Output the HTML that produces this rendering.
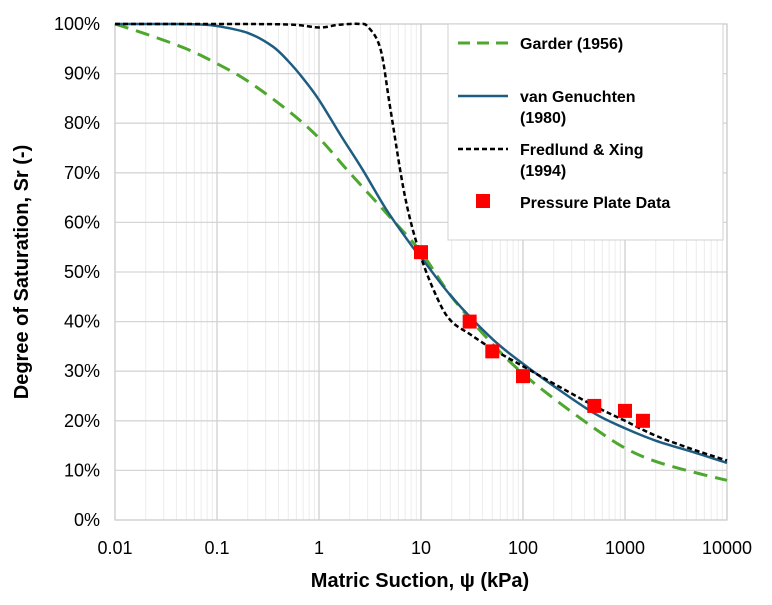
<!DOCTYPE html>
<html><head><meta charset="utf-8"><style>
body{margin:0;background:#fff}
svg text{font-family:"Liberation Sans",Arial,sans-serif}
</style></head><body>
<svg id="chart" width="772" height="600" xmlns="http://www.w3.org/2000/svg">
<g id="grid"></g>
<g id="ticks"></g>
<g id="series"></g>
<text x="420" y="587" text-anchor="middle" font-size="20" font-weight="bold" fill="#000">Matric Suction, ψ (kPa)</text>
<text transform="translate(28,272) rotate(-90)" text-anchor="middle" font-size="20" font-weight="bold" fill="#000">Degree of Saturation, Sr (-)</text>
<g>
<rect x="448" y="24" width="275" height="216" fill="#fff" stroke="#d0d0d0"/>
<line x1="458" y1="43" x2="508" y2="43" stroke="#4ea72e" stroke-width="3" stroke-dasharray="12,7"/>
<text x="520" y="49" font-size="16" font-weight="bold">Garder (1956)</text>
<line x1="458" y1="96" x2="508" y2="96" stroke="#1f5d80" stroke-width="2.5"/>
<text x="520" y="102" font-size="16" font-weight="bold">van Genuchten<tspan x="520" dy="21">(1980)</tspan></text>
<line x1="458" y1="149" x2="508" y2="149" stroke="#000" stroke-width="2.5" stroke-dasharray="5,3"/>
<text x="520" y="155" font-size="16" font-weight="bold">Fredlund &amp; Xing<tspan x="520" dy="21">(1994)</tspan></text>
<rect x="476" y="194" width="14" height="14" fill="#ff0000"/>
<text x="520" y="208" font-size="16" font-weight="bold">Pressure Plate Data</text>
</g>
</svg>
<script>
const xTicks=[0.01,0.1,1,10,100,1000,10000];
const xTickLabels=["0.01","0.1","1","10","100","1000","10000"];
const yTicks=[0,10,20,30,40,50,60,70,80,90,100];
const garderX=[0.01,0.02,0.05,0.1,0.2,0.5,1,2,5,10,20,50,100,200,500,1000,2000,5000,10000];
const garderY=[100,98,95,92,88.5,82.5,77,70,61,54,45,35.5,29.5,24.5,18.5,14.5,11.8,9.5,8];
const vgX=[0.01,0.04,0.07,0.1,0.2,0.35,0.5,0.7,1,1.64,2.7,4.6,8.3,10,20,50,100,200,500,1000,2000,5000,10000];
const vgY=[100,100,99.9,99.6,98.2,95.5,92.5,89,84.7,77.5,70.5,62.5,55,53,45,36.5,31.5,27,21.5,18.5,16,13.5,11.5];
const fxX=[0.01,0.1,0.5,1,1.5,2,2.5,3,4,5,7,10,15,20,30,50,100,200,500,1000,2000,5000,10000];
const fxY=[100,100,99.9,99.3,99.8,100,100,99.5,95,83,65,53,44,40,37.5,34.5,31,27.5,23,20,17,14,12];
const dataX=[10,30,50,100,500,1000,1500];
const dataY=[54,40,34,29,23,22,20];
const L=115,R=727,T=24,B=520;
const xs=v=>L+(Math.log10(v)+2)/6*(R-L);
const ys=v=>B-v/100*(B-T);
const NS="http://www.w3.org/2000/svg";
function mk(p,tag,at){const e=document.createElementNS(NS,tag);for(const k in at)e.setAttribute(k,at[k]);p.appendChild(e);return e;}
const grid=document.getElementById('grid'),tk=document.getElementById('ticks'),sr=document.getElementById('series');
for(let d=-2;d<4;d++)for(let m=2;m<10;m++){const x=xs(m*Math.pow(10,d));
 const l=mk(grid,'line',{x1:x,x2:x,y1:T,y2:B,stroke:'#ececec','stroke-width':1});
 
 }
yTicks.forEach(v=>{const l=mk(grid,'line',{x1:L,x2:R,y1:ys(v),y2:ys(v),stroke:'#d6d6d6','stroke-width':1.3});
 
 
 const t=mk(tk,'text',{x:L-15,y:ys(v)+6,'text-anchor':'end','font-size':18});t.textContent=v+'%';
 
 });
xTicks.forEach((v,i)=>{const l=mk(grid,'line',{x1:xs(v),x2:xs(v),y1:T,y2:B,stroke:'#d0d0d0','stroke-width':1.3});
 
 
 const t=mk(tk,'text',{x:xs(v),y:B+34,'text-anchor':'middle','font-size':18});t.textContent=xTickLabels[i];
 
 });
function path(X,Y){const p=X.map((x,i)=>[xs(x),ys(Y[i])]);let d='M'+p[0][0]+','+p[0][1];
 for(let i=0;i<p.length-1;i++){const p0=p[i-1]||p[i],p1=p[i],p2=p[i+1],p3=p[i+2]||p2;
 d+=' C'+(p1[0]+(p2[0]-p0[0])/6)+','+(p1[1]+(p2[1]-p0[1])/6)+' '+(p2[0]-(p3[0]-p1[0])/6)+','+(p2[1]-(p3[1]-p1[1])/6)+' '+p2[0]+','+p2[1];}
 return d;}
const g=mk(sr,'path',{d:path(garderX,garderY),fill:'none',stroke:'#4ea72e','stroke-width':3,'stroke-dasharray':'14,8'});


const v=mk(sr,'path',{d:path(vgX,vgY),fill:'none',stroke:'#1f5d80','stroke-width':2.5});


const f=mk(sr,'path',{d:path(fxX,fxY),fill:'none',stroke:'#000','stroke-width':2.5,'stroke-dasharray':'5,3'});


dataX.forEach((x,i)=>{const r=mk(sr,'rect',{x:xs(x)-7,y:ys(dataY[i])-7,width:14,height:14,fill:'#ff0000'});
 
 });
const ax=mk(grid,'rect',{x:L,y:T,width:R-L,height:B-T,fill:'none',stroke:'#d0d0d0','stroke-width':1.3});


</script>
</body></html>
